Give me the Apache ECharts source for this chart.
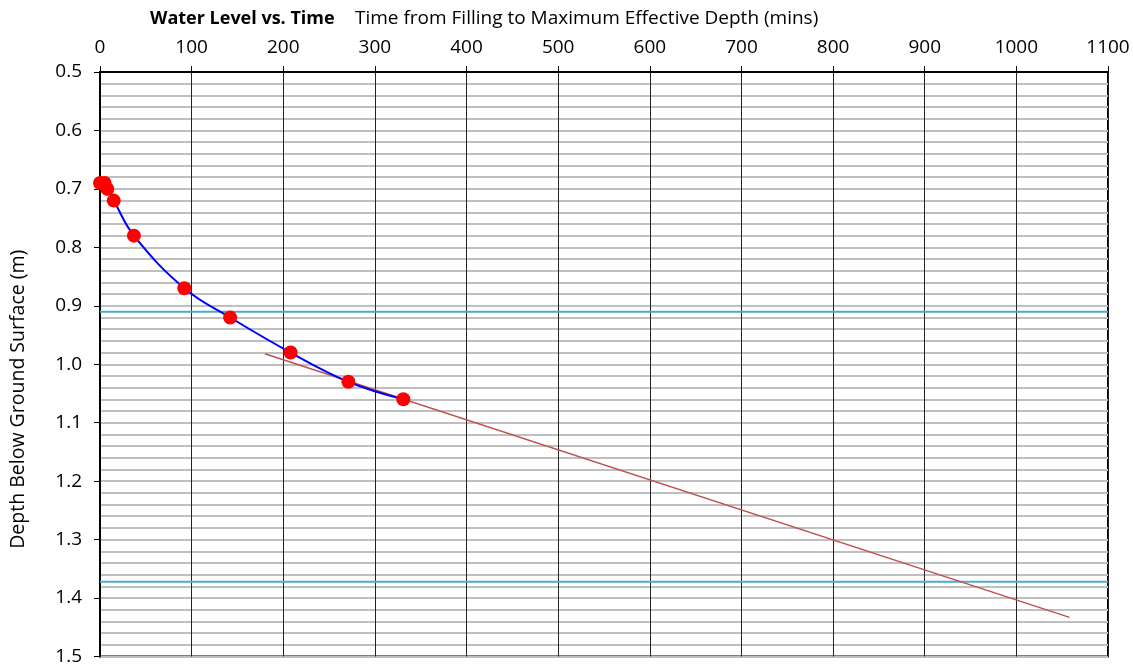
<!DOCTYPE html>
<html>
<head>
<meta charset="utf-8">
<script src="https://cdn.jsdelivr.net/npm/echarts@6/dist/echarts.min.js"></script>
<style>
  html, body { margin: 0; padding: 0; background: #fff; }
  #chart { width: 1133px; height: 666px; }
</style>
</head>
<body>
<div id="chart"></div>
<script>
// measured water level readings
const timeMins = [0, 5, 8, 15, 37, 92, 142, 208, 271, 331]
const depthM = [0.69, 0.69, 0.70, 0.72, 0.78, 0.87, 0.92, 0.98, 1.03, 1.06]

// fitted trend line end points
const trendTime = [180, 1058]
const trendDepth = [0.982, 1.433]

// horizontal reference levels
const refLevels = [0.91, 1.372]

const xMin = 0, xMax = 1100, xStep = 100
const yMin = 0.5, yMax = 1.5, yStep = 0.1

const font = '"Open Sans", "Noto Sans", sans-serif'
const chart = echarts.init(document.getElementById('chart'))

const refSeries = refLevels.map((lv) => ({
  type: 'line',
  data: [[xMin, lv], [xMax, lv]],
  symbol: 'none',
  silent: true,
  lineStyle: { color: '#4bacc6', width: 2 },
  z: 3
}))

chart.setOption({
  animation: false,
  backgroundColor: '#fff',
  textStyle: { fontFamily: font },
  title: [
    {
      text: 'Water Level vs. Time',
      left: 145, top: 5,
      textStyle: { fontFamily: font, fontSize: 18, fontWeight: 'bold', color: '#000' }
    },
    {
      text: 'Time from Filling to Maximum Effective Depth (mins)',
      left: 350, top: 4,
      textStyle: { fontFamily: font, fontSize: 19, fontWeight: 'normal', color: '#000' }
    }
  ],
  grid: {
    left: 100, right: 25, top: 72, bottom: 9,
    show: true, borderColor: '#000', borderWidth: 2
  },
  xAxis: {
    type: 'value',
    position: 'top',
    min: xMin, max: xMax, interval: xStep,
    axisLine: { show: true, lineStyle: { color: '#000', width: 2 } },
    axisTick: { show: true, inside: false, length: 6, lineStyle: { color: '#000' } },
    axisLabel: { color: '#000', fontSize: 19, margin: 15, formatter: (v) => String(v) },
    splitLine: { show: true, lineStyle: { color: '#222', width: 1 } }
  },
  yAxis: {
    type: 'value',
    inverse: true,
    min: yMin, max: yMax, interval: yStep,
    name: 'Depth Below Ground Surface (m)',
    nameLocation: 'middle',
    nameGap: 72,
    nameTextStyle: { color: '#000', fontSize: 19.5, padding: [0, 70, 0, 0] },
    axisLine: { show: true, lineStyle: { color: '#000', width: 2 } },
    axisTick: { show: true, length: 6, lineStyle: { color: '#000' } },
    axisLabel: { color: '#000', fontSize: 19, margin: 18, formatter: (v) => v.toFixed(1) },
    splitLine: { show: true, lineStyle: { color: '#bfbfbf', width: 2 } },
    minorTick: { show: false, splitNumber: 5 },
    minorSplitLine: { show: true, lineStyle: { color: '#bfbfbf', width: 2 } }
  },
  series: [
    ...refSeries,
    {
      type: 'line',
      data: trendTime.map((t, i) => [t, trendDepth[i]]),
      symbol: 'none',
      silent: true,
      lineStyle: { color: '#c0504d', width: 1.5 },
      z: 4
    },
    {
      type: 'line',
      data: timeMins.map((t, i) => [t, depthM[i]]),
      smooth: 0.4,
      symbol: 'circle',
      symbolSize: 14,
      showSymbol: true,
      itemStyle: { color: '#ff0000', borderWidth: 0 },
      lineStyle: { color: '#0000ff', width: 2 },
      z: 5
    }
  ]
})
</script>
</body>
</html>
